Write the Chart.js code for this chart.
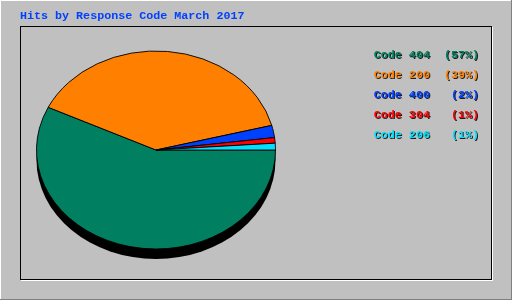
<!DOCTYPE html>
<html>
<head>
<meta charset="utf-8">
<script src="https://cdn.jsdelivr.net/npm/chart.js@4/dist/chart.umd.min.js"></script>
<style>
html,body{margin:0;padding:0;background:#c0c0c0;}
canvas{display:block;}
</style>
</head>
<body>
<canvas id="pie" width="512" height="300"></canvas>
<script>
// data
const chartTitle = "Hits by Response Code March 2017";
const codes = ["Code 404", "Code 200", "Code 400", "Code 304", "Code 206"];
const shares = [57.1, 38.9, 2.0, 0.9, 1.1];
const pctLabels = ["(57%)", "(39%)", "(2%)", "(1%)", "(1%)"];
const colors = ["#008060", "#ff8000", "#0040ff", "#ff0000", "#00e0ff"];

const FONT = "bold 11.7px 'Liberation Mono', 'DejaVu Sans Mono', monospace";
const SQUASH = 99 / 119.5;

const frame = {
  id: "frame",
  beforeDraw(c){
    const x = c.ctx;
    x.save();
    x.fillStyle = "#c0c0c0";
    x.fillRect(0,0,512,300);
    // outer bevel
    x.fillStyle = "#ffffff";
    x.fillRect(0,0,512,1); x.fillRect(0,0,1,300);
    x.fillStyle = "#808080";
    x.fillRect(0,299,512,1); x.fillRect(511,0,1,300);
    // inner frame
    x.fillStyle = "#ffffff";
    x.fillRect(21,280,472,1); x.fillRect(492,27,1,254);
    x.strokeStyle = "#000000"; x.lineWidth = 1;
    x.strokeRect(20.5,26.5,471,253);
    // title
    x.font = FONT; x.fillStyle = "#0040ff"; x.textBaseline = "alphabetic";
    x.fillText(chartTitle, 20, 19);
    x.restore();
  },
  beforeDatasetsDraw(c){
    const x = c.ctx, a = c.getDatasetMeta(0).data[0];
    x.save();
    x.translate(0, a.y); x.scale(1, SQUASH); x.translate(0, -a.y);
    // drop shadow under the pie
    x.fillStyle = "#000000";
    x.beginPath();
    x.arc(a.x, a.y + 10 / SQUASH, a.outerRadius, 0, Math.PI * 2);
    x.fill();
  },
  afterDatasetsDraw(c){
    c.ctx.restore();
  },
  afterDraw(c){
    const x = c.ctx;
    x.save();
    x.font = FONT; x.textAlign = "right"; x.textBaseline = "alphabetic";
    x.shadowColor = "rgba(0,0,0,0.85)"; x.shadowOffsetX = 1; x.shadowOffsetY = 1;
    codes.forEach((cd, i) => {
      x.fillStyle = colors[i];
      x.fillText(cd + "  " + pctLabels[i].padStart(5, " "), 479, 58 + i * 20);
    });
    x.restore();
  }
};

new Chart(document.getElementById("pie"), {
  type: "pie",
  data: { labels: codes, datasets: [{ data: shares, backgroundColor: colors, borderColor: "#000000", borderWidth: 1 }] },
  options: {
    responsive: false, animation: false, rotation: 90,
    layout: { padding: { left: 36, right: 236, top: 30, bottom: 30 } },
    plugins: { legend: { display: false }, title: { display: false }, tooltip: { enabled: false } }
  },
  plugins: [frame]
});
</script>
</body>
</html>
